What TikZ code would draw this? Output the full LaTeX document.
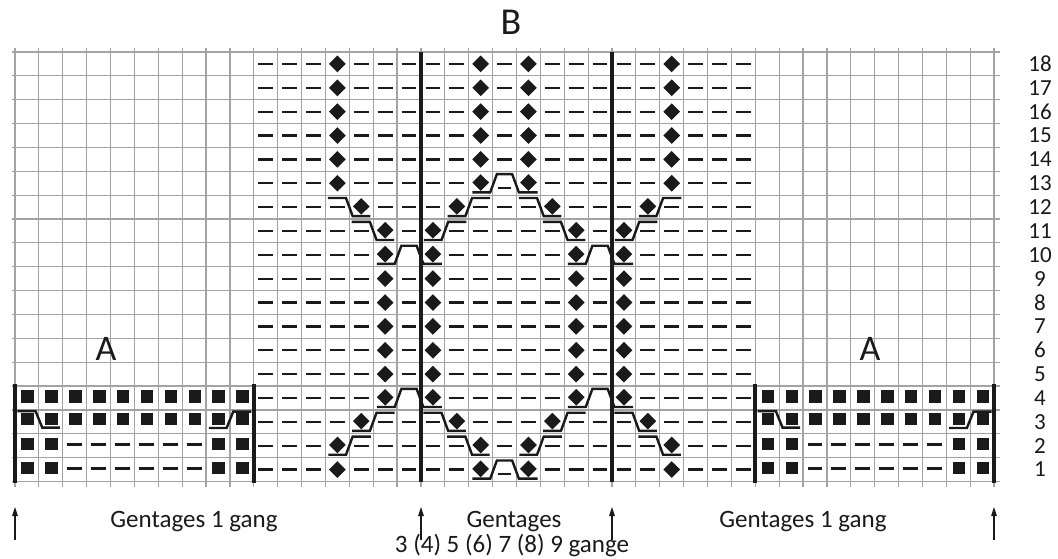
\documentclass[tikz,border=0pt]{standalone}
\usepackage{fontspec}
\setmainfont{Carlito}
\usetikzlibrary{arrows.meta}
\definecolor{ink}{HTML}{1A1A1A}
\definecolor{gridc}{HTML}{A3A3A3}
\tikzset{
  gridl/.style={draw=gridc, line width=1.2pt},
  thickl/.style={draw=ink, line width=3.8pt},
  cab/.style={draw=ink, line width=2.4pt, line join=miter},
  purlsym/.style={draw=ink, line width=2.3pt},
  symfill/.style={fill=ink},
  rowlab/.style={font=\fontsize{23}{26}\selectfont, text=ink, inner sep=0pt},
  caption/.style={font=\fontsize{25}{28}\selectfont, text=ink, inner sep=0pt, anchor=base},
  lblA/.style={font=\fontsize{36}{40}\selectfont, text=ink, inner sep=0pt},
  lblB/.style={font=\fontsize{38}{42}\selectfont, text=ink, inner sep=0pt},
  arr/.style={draw=ink, line width=1.2pt, -{Triangle[length=9pt,width=5.5pt]}}
}
\newcommand\kPu[2]{\draw[purlsym] ({#1+0.19},{#2+0.5}) -- ({#1+0.81},{#2+0.5});}
\newcommand\kPuA[2]{\draw[purlsym] ({#1+0.19},{#2+0.45}) -- ({#1+0.81},{#2+0.45});}
\newcommand\kDi[2]{\fill[symfill] ({#1+0.5},{#2+0.15}) -- ({#1+0.85},{#2+0.5}) -- ({#1+0.5},{#2+0.85}) -- ({#1+0.15},{#2+0.5}) -- cycle;}
\newcommand\kDiC[2]{\fill[symfill] ({#1+0.5},{#2+0.12}) -- ({#1+0.85},{#2+0.47}) -- ({#1+0.5},{#2+0.82}) -- ({#1+0.15},{#2+0.47}) -- cycle;}
\newcommand\kSq[2]{\fill[symfill] ({#1+0.27},{#2+0.17}) rectangle ({#1+0.79},{#2+0.69});}
\newcommand\kSqC[2]{\fill[symfill] ({#1+0.27},{#2+0.14}) rectangle ({#1+0.79},{#2+0.64});}
\newcommand\kLDline[4]{\draw[cab] ({#1+0.1},{#2+#3}) -- ({#1+0.86},{#2+#3}) -- ({#1+1.14},{#2+#4}) -- ({#1+1.88},{#2+#4});}
\newcommand\kRUline[4]{\draw[cab] ({#1+0.12},{#2+#4}) -- ({#1+0.86},{#2+#4}) -- ({#1+1.14},{#2+#3}) -- ({#1+1.9},{#2+#3});}
\newcommand\kLDm[2]{\kLDline{#1}{#2}{0.12}{0.88}\kPu{#1}{#2}\kDiC{#1+1}{#2}}
\newcommand\kRUm[2]{\kRUline{#1}{#2}{0.12}{0.88}\kDiC{#1}{#2}\kPu{#1+1}{#2}}
\newcommand\kBump[2]{\draw[cab] ({#1+0.15},{#2+0.88}) -- ({#1+0.9},{#2+0.88}) -- ({#1+1.18},{#2+0.12}) -- ({#1+1.82},{#2+0.12}) -- ({#1+2.1},{#2+0.88}) -- ({#1+2.88},{#2+0.88});\kDiC{#1}{#2}\kDiC{#1+2}{#2}}
\newcommand\kBumpD[2]{\kBump{#1}{#2}\draw[purlsym] ({#1+1.22},{#2+0.7}) -- ({#1+1.78},{#2+0.7});}
\begin{document}
\begin{tikzpicture}[x=1pt,y=-1pt]
\useasboundingbox (0,0) rectangle (1058,558);
\fill[white] (0,0) rectangle (1058,558);
\begin{scope}[shift={(15,52)}, x=23.88pt, y=-23.86pt]
  % grid
  \foreach \j in {0,...,18} {\draw[gridl] (-0.13,\j) -- (41.25,\j);}
  \foreach \c in {0,...,41} {\draw[gridl] (\c,-0.17) -- (\c,18.22);}
  % thick lines
  \foreach \c in {0,10,31,41} {\draw[thickl] (\c,13.92) -- (\c,18.07);}
  \foreach \c in {17,25} {\draw[thickl] (\c,0) -- (\c,18.04);}
  % rows 18-14
  \foreach \j in {0,...,4}{
    \foreach \c in {10,11,12,14,15,16,17,18,20,22,23,24,25,26,28,29,30} {\kPu{\c}{\j}}
    \foreach \c in {13,19,21,27} {\kDi{\c}{\j}}
  }
  % rows 13 and 1
  \foreach \j in {5,17}{
    \foreach \c in {10,11,12,14,15,16,17,18,22,23,24,25,26,28,29,30} {\kPu{\c}{\j}}
    \kDi{13}{\j}\kDi{27}{\j}
    \kBumpD{19}{\j}
  }
  % row 12
  \foreach \c in {10,11,12,15,16,17,20,23,24,25,28,29,30} {\kPu{\c}{6}}
  \kLDm{13}{6}\kRUm{18}{6}\kLDm{21}{6}\kRUm{26}{6}
  % row 11
  \foreach \c in {10,11,12,13,16,19,20,21,24,27,28,29,30} {\kPu{\c}{7}}
  \kLDm{14}{7}\kRUm{17}{7}\kLDm{22}{7}\kRUm{25}{7}
  % rows 10 and 4
  \foreach \j in {8,14}{
    \foreach \c in {10,11,12,13,14,18,19,20,21,22,26,27,28,29,30} {\kPu{\c}{\j}}
    \kBump{15}{\j}\kBump{23}{\j}
  }
  % rows 9-5
  \foreach \j in {9,...,13}{
    \foreach \c in {10,11,12,13,14,16,18,19,20,21,22,24,26,27,28,29,30} {\kPu{\c}{\j}}
    \foreach \c in {15,17,23,25} {\kDi{\c}{\j}}
  }
  % row 3
  \foreach \c in {10,11,12,13,16,19,20,21,24,27,28,29,30} {\kPu{\c}{15}}
  \kRUm{14}{15}\kLDm{17}{15}\kRUm{22}{15}\kLDm{25}{15}
  % row 2
  \foreach \c in {10,11,12,15,16,17,20,23,24,25,28,29,30} {\kPu{\c}{16}}
  \kRUm{13}{16}\kLDm{18}{16}\kRUm{21}{16}\kLDm{26}{16}
  % A sections
  \foreach \o in {0,31}{
    \foreach \k in {0,...,9} {\kSq{\o+\k}{14}}
    \foreach \k in {0,...,9} {\kSqC{\o+\k}{15}}
    \kLDline{\o}{15}{0.05}{0.74}
    \kRUline{\o+8}{15}{0.07}{0.76}
    \foreach \j in {16,17}{
      \kSq{\o}{\j}\kSq{\o+1}{\j}\kSq{\o+8}{\j}\kSq{\o+9}{\j}
      \foreach \k in {2,...,7} {\kPuA{\o+\k}{\j}}
    }
  }
\end{scope}
% row numbers
\foreach \rn in {1,...,18}{
  \node[rowlab] (row\rn) at (1040,{52+(18-\rn+0.5)*23.86}) {\rn};
}
% section letters
\node[lblA] (Aleft) at (106,349) {A};
\node[lblA] (Aright) at (870,349) {A};
\node[lblB] (Blabel) at (511,22) {B};
% captions
\node[caption] (capL) at (194,527) {Gentages 1 gang};
\node[caption] (capM) at (514,527) {Gentages};
\node[caption] (capM2) at (512,552.5) {3 (4) 5 (6) 7 (8) 9 gange};
\node[caption] (capR) at (803,527) {Gentages 1 gang};
% arrows
\foreach \n/\x in {1/15,2/421,3/612,4/994}{
  \coordinate (ab\n) at (\x,540);
  \coordinate (at\n) at (\x,507);
  \draw[arr] (ab\n) -- (at\n);
}
\end{tikzpicture}
\end{document}
